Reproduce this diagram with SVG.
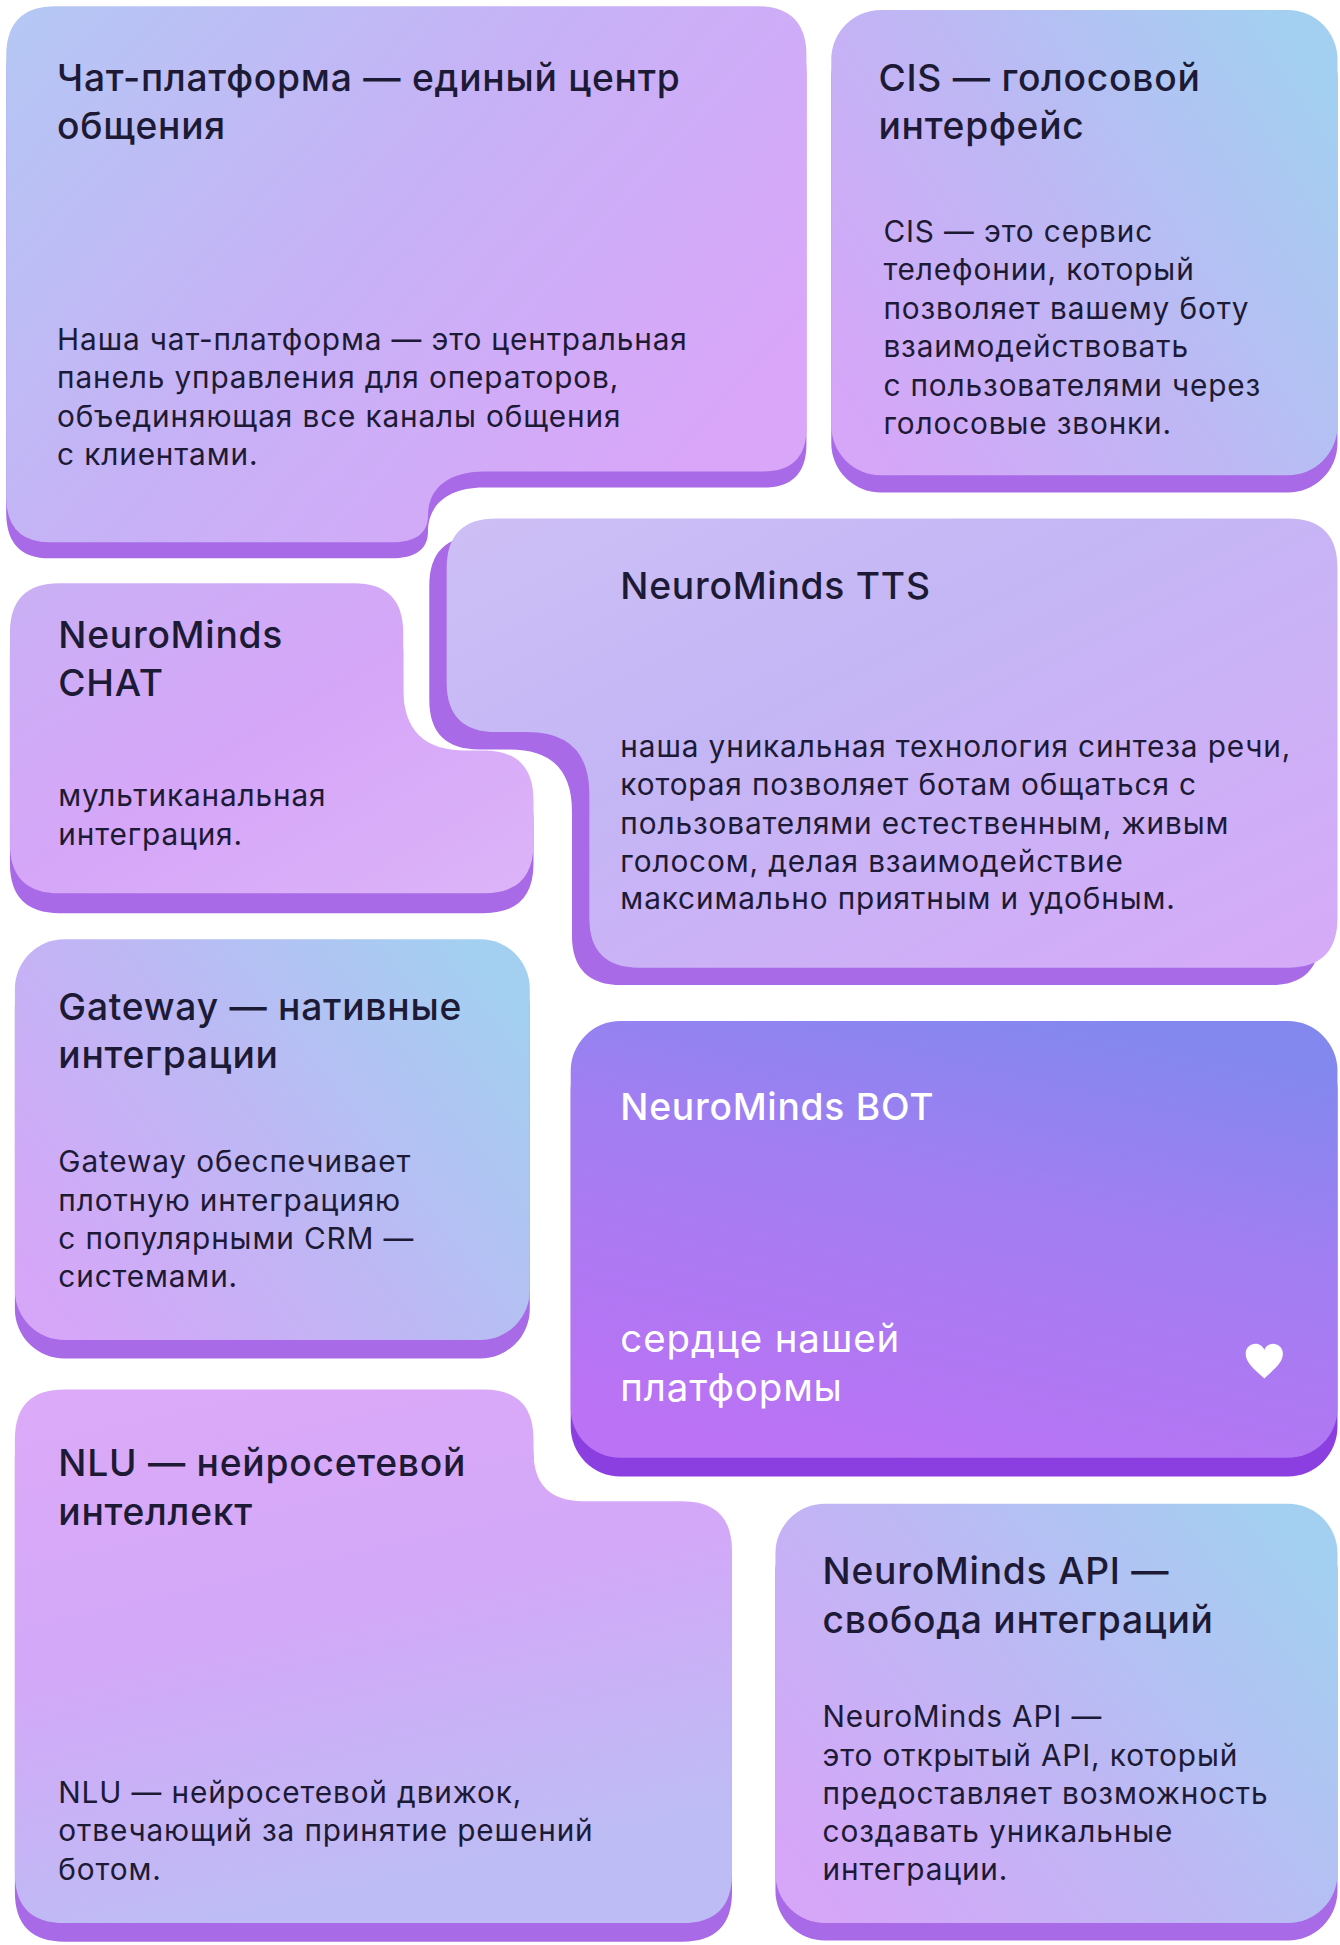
<svg xmlns="http://www.w3.org/2000/svg" width="1340" height="1945" viewBox="0 0 1340 1945">
<defs>
<linearGradient id="gBP" x1="0" y1="0" x2="1" y2="0.6"><stop offset="0" stop-color="#b4c8f4"/><stop offset="0.5" stop-color="#c6b2f6"/><stop offset="1" stop-color="#d9a6f9"/></linearGradient>
<linearGradient id="gPC" x1="0" y1="0.8" x2="1" y2="0.2"><stop offset="0" stop-color="#d6a6f8"/><stop offset="0.5" stop-color="#bdb8f4"/><stop offset="1" stop-color="#a3d0f1"/></linearGradient>
<linearGradient id="gP" x1="0" y1="0" x2="1" y2="1"><stop offset="0" stop-color="#c9b0f5"/><stop offset="0.5" stop-color="#d6a6f8"/><stop offset="1" stop-color="#dcb4f8"/></linearGradient>
<linearGradient id="gT" x1="0" y1="0" x2="1" y2="1"><stop offset="0" stop-color="#cdbff5"/><stop offset="0.4" stop-color="#c4b6f5"/><stop offset="1" stop-color="#d6aaf8"/></linearGradient>
<linearGradient id="gN" x1="0" y1="0" x2="0.3" y2="1"><stop offset="0" stop-color="#dcaaf8"/><stop offset="0.5" stop-color="#d3a8f8"/><stop offset="1" stop-color="#bdbcf4"/></linearGradient>
<linearGradient id="gB" x1="0.3" y1="1" x2="0.7" y2="0"><stop offset="0" stop-color="#bb72f4"/><stop offset="0.6" stop-color="#a27ef2"/><stop offset="1" stop-color="#8388ef"/></linearGradient>
<style>
.sh{fill:#a86ae6}
.shb{fill:#8b3fe0}
.t{font-family:Inter,"Noto Sans",sans-serif;font-size:30px;font-weight:500;fill:#1d1a36;letter-spacing:0.6px}
.b{font-family:Inter,"Noto Sans",sans-serif;font-size:24px;fill:#1d1a36;letter-spacing:0.7px}
.w{fill:#ffffff}
.bw{font-size:31px}
</style>
</defs>
<rect width="1340" height="1945" fill="#ffffff"/>
<g transform="scale(1.2407)">
<g id="chat-platform">
<path class="sh" transform="translate(0,13)" d="M45,5 H610 Q650,5 650,45 V345 Q650,380 615,380 H390 C360,380 345,395 345,415 C345,430 335,437 315,437 H40 Q5,437 5,400 V45 Q5,5 45,5 Z"/>
<path fill="url(#gBP)" d="M45,5 H610 Q650,5 650,45 V345 Q650,380 615,380 H390 C360,380 345,395 345,415 C345,430 335,437 315,437 H40 Q5,437 5,400 V45 Q5,5 45,5 Z"/>
<text class="t" x="46" y="73">Чат-платформа — единый центр</text>
<text class="t" x="46" y="112">общения</text>
<text class="b" x="46" y="282">Наша чат-платформа — это центральная</text>
<text class="b" x="46" y="313">панель управления для операторов,</text>
<text class="b" x="46" y="344">объединяющая все каналы общения</text>
<text class="b" x="46" y="375">с клиентами.</text>
</g>
<g id="cis">
<rect class="sh" x="670" y="22" width="408" height="375" rx="40"/>
<rect fill="url(#gPC)" x="670" y="8" width="408" height="375" rx="40"/>
<text class="t" x="708" y="73">CIS — голосовой</text>
<text class="t" x="708" y="112">интерфейс</text>
<text class="b" x="712" y="195">CIS — это сервис</text>
<text class="b" x="712" y="226">телефонии, который</text>
<text class="b" x="712" y="257">позволяет вашему боту</text>
<text class="b" x="712" y="288">взаимодействовать</text>
<text class="b" x="712" y="319">с пользователями через</text>
<text class="b" x="712" y="350">голосовые звонки.</text>
</g>
<g id="tts">
<path class="sh" transform="translate(-14,14)" d="M400,418 H1038 Q1078,418 1078,458 V740 Q1078,780 1038,780 H515 Q475,780 475,740 V640 Q475,590 425,590 H400 Q360,590 360,550 V458 Q360,418 400,418 Z"/>
<path fill="url(#gT)" d="M400,418 H1038 Q1078,418 1078,458 V740 Q1078,780 1038,780 H515 Q475,780 475,740 V640 Q475,590 425,590 H400 Q360,590 360,550 V458 Q360,418 400,418 Z"/>
<text class="t" x="500" y="483">NeuroMinds TTS</text>
<text class="b" x="500" y="610">наша уникальная технология синтеза речи,</text>
<text class="b" x="500" y="641">которая позволяет ботам общаться с</text>
<text class="b" x="500" y="672">пользователями естественным, живым</text>
<text class="b" x="500" y="703">голосом, делая взаимодействие</text>
<text class="b" x="500" y="733">максимально приятным и удобным.</text>
</g>
<g id="nm-chat">
<path class="sh" transform="translate(0,16)" d="M48,470 H285 Q325,470 325,510 V555 Q325,605 375,605 H390 Q430,605 430,645 V680 Q430,720 390,720 H48 Q8,720 8,680 V510 Q8,470 48,470 Z"/>
<path fill="url(#gP)" d="M48,470 H285 Q325,470 325,510 V555 Q325,605 375,605 H390 Q430,605 430,645 V680 Q430,720 390,720 H48 Q8,720 8,680 V510 Q8,470 48,470 Z"/>
<text class="t" x="47" y="522">NeuroMinds</text>
<text class="t" x="47" y="561">CHAT</text>
<text class="b" x="47" y="650">мультиканальная</text>
<text class="b" x="47" y="681">интеграция.</text>
</g>
<g id="gateway">
<rect class="sh" x="12" y="772" width="415" height="323" rx="40"/>
<rect fill="url(#gPC)" x="12" y="757" width="415" height="323" rx="40"/>
<text class="t" x="47" y="822">Gateway — нативные</text>
<text class="t" x="47" y="861">интеграции</text>
<text class="b" x="47" y="945">Gateway обеспечивает</text>
<text class="b" x="47" y="976">плотную интеграцияю</text>
<text class="b" x="47" y="1007">с популярными CRM —</text>
<text class="b" x="47" y="1037">системами.</text>
</g>
<g id="bot">
<rect class="shb" x="460" y="838" width="618" height="352" rx="40"/>
<rect fill="url(#gB)" x="460" y="823" width="618" height="352" rx="40"/>
<text class="t w" x="500" y="903">NeuroMinds BOT</text>
<text class="b w bw" x="500" y="1090">сердце нашей</text>
<text class="b w bw" x="500" y="1129">платформы</text>
<path fill="#ffffff" d="M1019,1111 C1010,1103 1004,1098 1004,1091 C1004,1086 1008,1083 1012,1083 C1015,1083 1018,1085 1019,1088 C1020,1085 1023,1083 1026,1083 C1030,1083 1034,1086 1034,1091 C1034,1098 1028,1103 1019,1111 Z"/>
</g>
<g id="nlu">
<path class="sh" transform="translate(0,15)" d="M52,1120 H390 Q430,1120 430,1160 V1170 Q430,1210 470,1210 H550 Q590,1210 590,1250 V1510 Q590,1550 550,1550 H52 Q12,1550 12,1510 V1160 Q12,1120 52,1120 Z"/>
<path fill="url(#gN)" d="M52,1120 H390 Q430,1120 430,1160 V1170 Q430,1210 470,1210 H550 Q590,1210 590,1250 V1510 Q590,1550 550,1550 H52 Q12,1550 12,1510 V1160 Q12,1120 52,1120 Z"/>
<text class="t" x="47" y="1190">NLU — нейросетевой</text>
<text class="t" x="47" y="1229">интеллект</text>
<text class="b" x="47" y="1453">NLU — нейросетевой движок,</text>
<text class="b" x="47" y="1484">отвечающий за принятие решений</text>
<text class="b" x="47" y="1515">ботом.</text>
</g>
<g id="api">
<rect class="sh" x="625" y="1226" width="453" height="338" rx="40"/>
<rect fill="url(#gPC)" x="625" y="1212" width="453" height="338" rx="40"/>
<text class="t" x="663" y="1277">NeuroMinds API —</text>
<text class="t" x="663" y="1316">свобода интеграций</text>
<text class="b" x="663" y="1392">NeuroMinds API —</text>
<text class="b" x="663" y="1423">это открытый API, который</text>
<text class="b" x="663" y="1454">предоставляет возможность</text>
<text class="b" x="663" y="1485">создавать уникальные</text>
<text class="b" x="663" y="1515">интеграции.</text>
</g>
<g id="connectors"/>
</g>
</svg>
